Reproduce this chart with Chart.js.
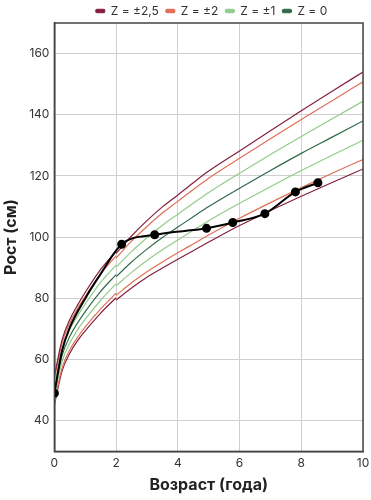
<!DOCTYPE html>
<html lang="ru">
<head>
<meta charset="utf-8">
<title>Рост по возрасту</title>
<script src="https://cdn.jsdelivr.net/npm/chart.js@4"></script>
<style>
  html, body { margin: 0; padding: 0; background: #fff; }
  #wrap { width: 371px; height: 500px; }
</style>
</head>
<body>
<div id="wrap"><canvas id="grafico"></canvas></div>
<script>
// Edades (años): longitud 0-2, talla 2-10
const edadesLongitud = [0, 0.25, 0.5, 0.75, 1, 1.5, 2];
const edadesTalla = [2, 2.5, 3, 3.5, 4, 4.5, 5, 6, 7, 8, 9, 10];

// Curvas Z (cm)
const zMenos25Long = [45.2, 56.3, 62.1, 66.2, 69.4, 75.2, 80.2];
const zMenos2Long  = [46.1, 57.3, 63.2, 67.3, 70.7, 76.6, 81.7];
const zMenos1Long  = [48.0, 59.4, 65.4, 69.7, 73.2, 79.4, 84.8];
const zCeroLong    = [49.9, 61.4, 67.6, 72.0, 75.7, 82.3, 87.8];
const zMas1Long    = [51.8, 63.4, 69.8, 74.3, 78.2, 85.2, 90.9];
const zMas2Long    = [53.7, 65.5, 72.0, 76.7, 80.7, 88.0, 93.9];
const zMas25Long   = [54.6, 66.5, 73.1, 77.8, 82.0, 89.5, 95.4];

const zMenos25Talla = [79.5, 83.4, 86.9, 89.9, 92.8, 95.6, 98.4, 103.8, 108.7, 113.4, 117.9, 122.3];
const zMenos2Talla  = [81.0, 85.1, 88.7, 91.9, 94.9, 97.8, 100.7, 106.2, 111.3, 116.2, 120.9, 125.4];
const zMenos1Talla  = [84.1, 88.5, 92.4, 95.9, 99.1, 102.3, 105.4, 111.1, 116.5, 121.8, 126.8, 131.7];
const zCeroTalla    = [87.1, 91.9, 96.1, 99.9, 103.3, 106.7, 110.0, 116.0, 121.8, 127.4, 132.7, 138.0];
const zMas1Talla    = [90.2, 95.3, 99.8, 103.9, 107.5, 111.1, 114.6, 120.9, 127.0, 132.9, 138.7, 144.4];
const zMas2Talla    = [93.2, 98.7, 103.5, 107.9, 111.7, 115.6, 119.3, 125.8, 132.2, 138.5, 144.6, 150.8];
const zMas25Talla   = [94.7, 100.4, 105.4, 109.9, 113.8, 117.8, 121.6, 128.2, 134.8, 141.3, 147.7, 154.0];

// Mediciones del paciente
const edadesPaciente = [0, 0.25, 0.5, 1, 1.5, 2.18, 3.25, 4.93, 5.78, 6.82, 7.81, 8.54];
const tallaPaciente  = [49.0, 63.0, 70.5, 80.0, 88.0, 97.7, 100.8, 102.9, 104.8, 107.7, 114.8, 117.8];
const marcadorPaciente = [3.5, 0, 0, 0, 0, 3.5, 3.5, 3.5, 3.5, 3.5, 3.5, 3.5];

const ticksY = [40, 60, 80, 100, 120, 140, 160];

const colores = {
  "Z = ±2,5": "#84203f",
  "Z = ±2": "#df6f57",
  "Z = ±1": "#92cc8b",
  "Z = 0": "#2f6a4a"
};

function puntos(xs, ys) {
  return xs.map((x, i) => ({ x: x, y: ys[i] }));
}

function curva(label, xs, ys) {
  return {
    label: label,
    data: puntos(xs, ys),
    borderColor: colores[label],
    backgroundColor: colores[label],
    borderWidth: 1.2,
    pointRadius: 0,
    cubicInterpolationMode: "monotone",
    fill: false
  };
}

const datasets = [
  {
    label: "",
    data: puntos(edadesPaciente, tallaPaciente),
    borderColor: "#000",
    backgroundColor: "#000",
    borderWidth: 2,
    pointRadius: marcadorPaciente,
    pointHoverRadius: marcadorPaciente,
    cubicInterpolationMode: "monotone"
  },
  curva("Z = ±2,5", edadesLongitud, zMas25Long),
  curva("Z = ±2", edadesLongitud, zMas2Long),
  curva("Z = ±1", edadesLongitud, zMas1Long),
  curva("Z = 0", edadesLongitud, zCeroLong),
  curva("Z = ±1", edadesLongitud, zMenos1Long),
  curva("Z = ±2", edadesLongitud, zMenos2Long),
  curva("Z = ±2,5", edadesLongitud, zMenos25Long),
  curva("Z = ±2,5", edadesTalla, zMas25Talla),
  curva("Z = ±2", edadesTalla, zMas2Talla),
  curva("Z = ±1", edadesTalla, zMas1Talla),
  curva("Z = 0", edadesTalla, zCeroTalla),
  curva("Z = ±1", edadesTalla, zMenos1Talla),
  curva("Z = ±2", edadesTalla, zMenos2Talla),
  curva("Z = ±2,5", edadesTalla, zMenos25Talla)
];

// Marco alrededor del área del gráfico
const marco = {
  id: "marco",
  afterDraw(chart) {
    const a = chart.chartArea;
    const ctx = chart.ctx;
    ctx.save();
    ctx.strokeStyle = "#444";
    ctx.lineWidth = 1.5;
    ctx.strokeRect(a.left, a.top, a.right - a.left, a.bottom - a.top);
    ctx.restore();
  }
};

// Leyenda centrada sobre el área del gráfico
const moverLeyenda = {
  id: "moverLeyenda",
  afterLayout(chart) {
    const l = chart.legend;
    const dx = 25, dy = 4;
    l.left += dx; l.right += dx;
    l.top += dy; l.bottom += dy;
  }
};

Chart.defaults.font.family = "Inter, 'Noto Sans', sans-serif";
Chart.defaults.color = "#333";

new Chart(document.getElementById("grafico"), {
  type: "line",
  data: { datasets },
  options: {
    responsive: true,
    maintainAspectRatio: false,
    animation: false,
    layout: { padding: { left: 2, right: 0, top: -6, bottom: 0 } },
    plugins: {
      legend: {
        position: "top",
        labels: {
          boxWidth: 9,
          boxHeight: 3.5,
          useBorderRadius: true,
          borderRadius: 1.5,
          padding: 7,
          font: { size: 12 },
          color: "#333",
          filter: (item, data) => {
            if (!item.text) return false;
            const primero = data.datasets.findIndex(d => d.label === item.text);
            return primero === item.datasetIndex;
          }
        }
      },
      tooltip: { enabled: false }
    },
    scales: {
      x: {
        type: "linear",
        min: 0,
        max: 10,
        afterFit: (scale) => { scale.paddingRight = 8; },
        ticks: { stepSize: 2, padding: 5, font: { size: 12 }, color: "#333" },
        grid: { color: "#cfcfcf", drawTicks: false },
        border: { color: "#444", width: 1.5 },
        title: { display: true, text: "Возраст (года)", font: { size: 16, weight: "bold" }, color: "#222", padding: { top: 0, bottom: 5 } }
      },
      y: {
        min: 30,
        max: 170,
        afterBuildTicks: (scale) => { scale.ticks = ticksY.map(v => ({ value: v })); },
        ticks: { padding: 5, font: { size: 12 }, color: "#333" },
        grid: { color: "#cfcfcf", drawTicks: false },
        border: { color: "#444", width: 1.5 },
        title: { display: true, text: "Рост (см)", font: { size: 16, weight: "bold" }, color: "#222", padding: { top: 0, bottom: 3 } }
      }
    }
  },
  plugins: [marco, moverLeyenda]
});
</script>
</body>
</html>
